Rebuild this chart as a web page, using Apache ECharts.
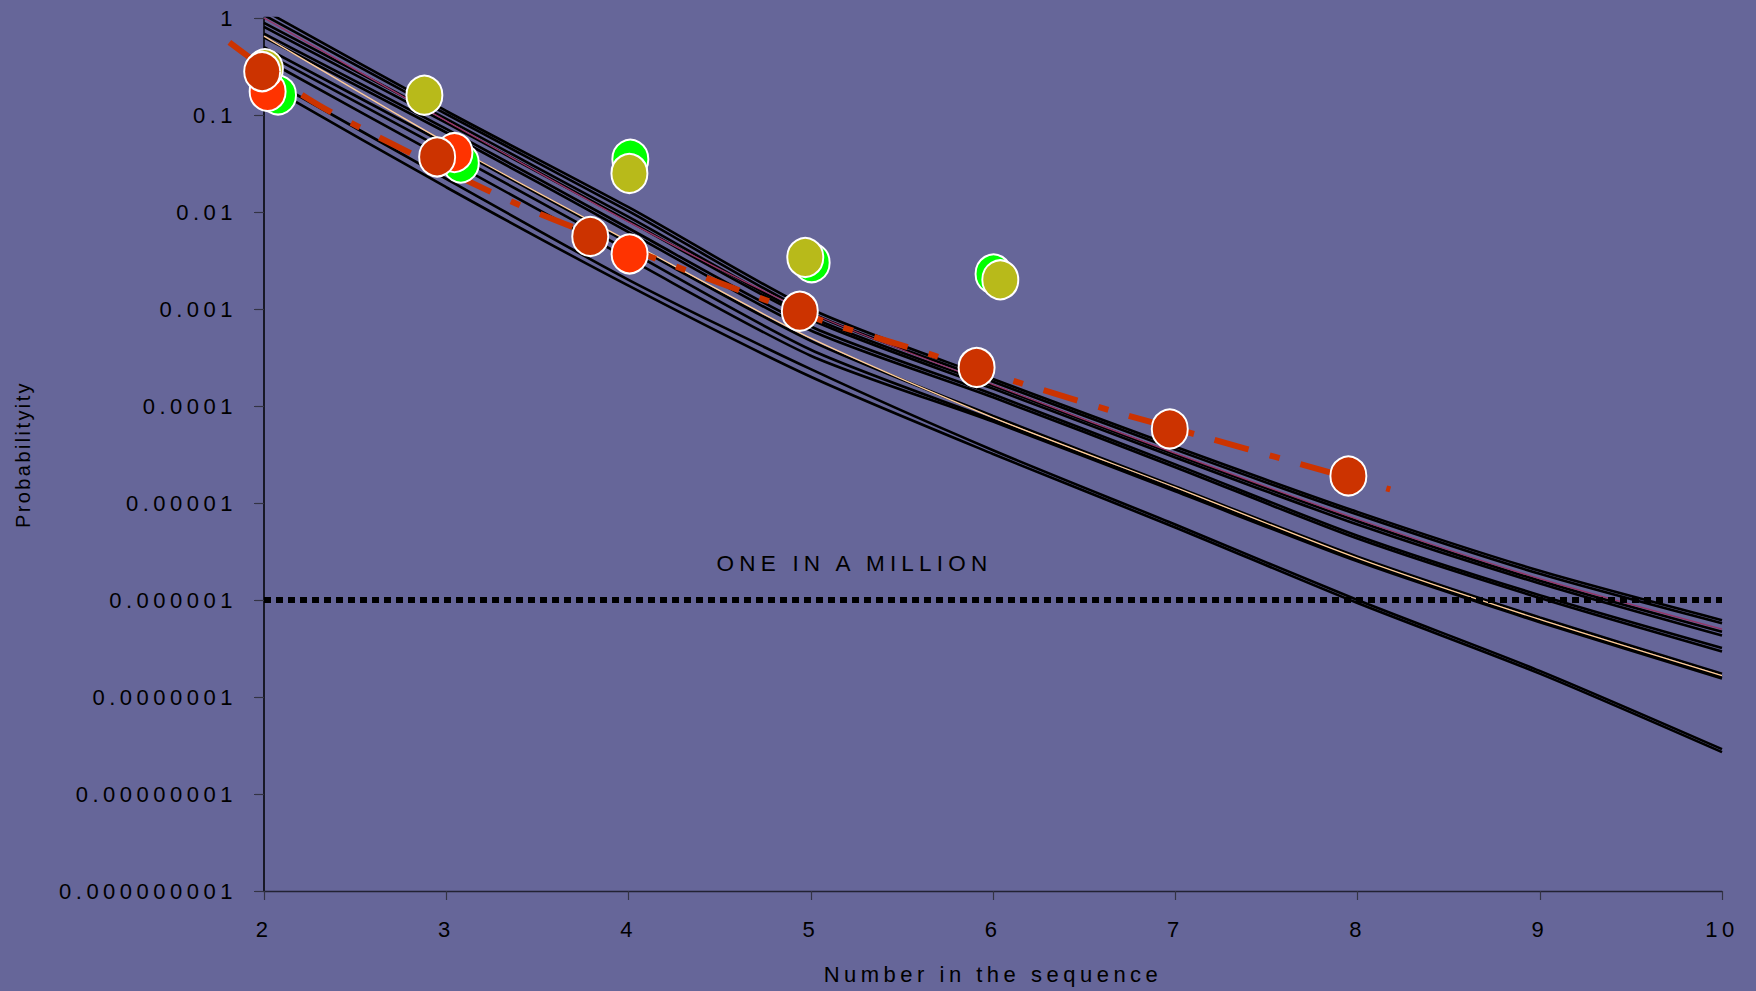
<!DOCTYPE html>
<html>
<head>
<meta charset="utf-8">
<script src="https://cdn.jsdelivr.net/npm/echarts@6.0.0/dist/echarts.min.js"></script>
<style>
html, body { margin: 0; padding: 0; background: #666699; }
#chart { width: 1756px; height: 991px; }
#chart text { letter-spacing: 4.5px; }
#chart text[style*="20px"] { letter-spacing: 2.4px; }
#chart text[style*="22.5px"] { letter-spacing: 5.2px; }
</style>
</head>
<body>
<div id="chart"></div>
<script>
// x positions of the model curves
const xValues = [2, 3, 4, 5, 6, 7, 8, 9, 10];

// model curves (probability at x = 2..10)
const curveA1 = [1.2, 0.11, 0.0112, 1.0e-3, 1.9e-4, 3.8e-5, 8.1e-6, 2.0e-6, 6.2e-7];
const curveA2 = [1.07, 0.102, 0.0102, 9.1e-4, 1.78e-4, 3.55e-5, 7.6e-6, 1.86e-6, 5.75e-7];
const curveB1 = [0.89, 0.091, 0.0089, 8.3e-4, 1.62e-4, 3.16e-5, 6.5e-6, 1.58e-6, 4.7e-7];
const curveB2 = [0.81, 0.083, 0.0081, 7.8e-4, 1.51e-4, 2.95e-5, 6.0e-6, 1.48e-6, 4.3e-7];
const curveC1 = [0.69, 0.072, 0.0068, 6.6e-4, 1.32e-4, 2.5e-5, 4.6e-6, 1.12e-6, 3.2e-7];
const curveC2 = [0.63, 0.066, 0.0062, 6.0e-4, 1.23e-4, 2.34e-5, 4.3e-6, 1.05e-6, 2.95e-7];
const curveD1 = [0.50, 0.050, 0.0048, 4.7e-4, 7.9e-5, 1.48e-5, 2.8e-6, 6.6e-7, 1.74e-7];
const curveD2 = [0.44, 0.043, 0.0040, 3.8e-4, 7.2e-5, 1.38e-5, 2.63e-6, 6.2e-7, 1.62e-7];
const curveD3 = [0.38, 0.035, 0.0033, 3.3e-4, 6.9e-5, 1.32e-5, 2.5e-6, 5.9e-7, 1.55e-7];
const curveE1 = [0.25, 0.022, 0.0020, 2.4e-4, 3.5e-5, 6.0e-6, 1.0e-6, 1.86e-7, 2.9e-8];
const curveE2 = [0.21, 0.018, 0.00174, 2.0e-4, 3.2e-5, 5.6e-6, 9.3e-7, 1.74e-7, 2.7e-8];
const curveMaroon = [1.0, 0.087, 0.0079, 9.1e-4, 1.66e-4, 3.24e-5, 6.8e-6, 1.66e-6, 5.0e-7];
const curveTan = [0.65, 0.052, 0.0050, 5.0e-4, 7.6e-5, 1.45e-5, 2.7e-6, 6.3e-7, 1.66e-7];

// trend line (dash-dot)
const trendX = [1.81, 2.24, 2.63, 3.13, 3.50, 4.175, 4.62, 5.08, 5.54, 6.23, 6.69, 7.16, 7.63, 8.18];
const trendY = [0.56, 0.148, 0.059, 0.0204, 0.0098, 0.00316, 0.00153, 0.00074, 0.0004, 0.000155, 0.000085, 0.000048, 0.000027, 0.0000138];

// observed points
const greenX = [2.077, 3.08, 4.01, 5.005, 6.003];
const greenY = [0.161, 0.032, 0.035, 0.003, 0.0023];
const orangeX = [2.02, 3.045, 4.006];
const orangeY = [0.175, 0.041, 0.0037];
const oliveX = [2.005, 2.88, 4.005, 4.97, 6.04];
const oliveY = [0.30, 0.16, 0.025, 0.0034, 0.002];
const darkRedX = [1.99, 2.95, 3.79, 4.94, 5.91, 6.97, 7.95];
const darkRedY = [0.28, 0.037, 0.0056, 0.00095, 0.00025, 5.8e-5, 1.9e-5];

// one-in-a-million reference
const millionX = [2, 10];
const millionY = [1e-6, 1e-6];
const millionLabel = 'ONE IN A MILLION';
const millionLabelAt = [5.24, 2.4e-6];

// axis texts
const yTickLabels = ['1', '0.1', '0.01', '0.001', '0.0001', '0.00001', '0.000001', '0.0000001', '0.00000001', '0.000000001'];
const xTickLabels = ['2', '3', '4', '5', '6', '7', '8', '9', '10'];
const xAxisName = 'Number in the sequence';
const yAxisName = 'Probabilityity';

const FONT = "'Liberation Sans', Arial, sans-serif";
const zip = (xs, ys) => xs.map((x, i) => [x, ys[i]]);

const blackCurves = [curveA1, curveA2, curveB1, curveB2, curveC1, curveC2, curveD1, curveD2, curveD3, curveE1, curveE2];

const series = [];
blackCurves.forEach(c => {
  series.push({
    type: 'line', data: zip(xValues, c), symbol: 'none', silent: true, smooth: 0.25,
    lineStyle: { color: '#000000', width: 2.6 }, z: 2
  });
});
series.push({
  type: 'line', data: zip(xValues, curveMaroon), symbol: 'none', silent: true, smooth: 0.25,
  lineStyle: { color: '#993366', width: 1.3 }, z: 3
});
series.push({
  type: 'line', data: zip(xValues, curveTan), symbol: 'none', silent: true, smooth: 0.25,
  lineStyle: { color: '#FFCC99', width: 1.3 }, z: 3
});
series.push({
  type: 'line', data: zip(millionX, millionY), symbol: 'none', silent: true,
  lineStyle: { color: '#000000', width: 6, type: [7, 5] }, z: 4,
  markPoint: {
    symbol: 'circle', symbolSize: 0, silent: true,
    label: { show: true, position: 'inside', color: '#000000', fontSize: 22.5, fontFamily: FONT, formatter: millionLabel },
    data: [{ coord: millionLabelAt }]
  }
});
// trend line lives on an overlay grid whose x range starts at 1.8 (same pixel scale)
series.push({
  type: 'line', xAxisIndex: 1, yAxisIndex: 1,
  data: zip(trendX, trendY), symbol: 'none', silent: true, smooth: 0.3,
  lineStyle: { color: '#CC3300', width: 6, type: [35, 22, 10, 22] }, z: 5
});
const pointSeries = [
  [greenX, greenY, '#00FF00'],
  [orangeX, orangeY, '#FF3300'],
  [oliveX, oliveY, '#B8BA1A'],
  [darkRedX, darkRedY, '#CC3300']
];
pointSeries.forEach(([xs, ys, col]) => {
  series.push({
    type: 'scatter', data: zip(xs, ys), symbol: 'circle', symbolSize: [36, 39], clip: false, silent: true,
    itemStyle: { color: col, borderColor: '#FFFFFF', borderWidth: 2, opacity: 1 }, z: 6
  });
});

const GRID_LEFT = 264, GRID_RIGHT = 34, GRID_TOP = 18, GRID_BOTTOM = 100;
const plotWidth = 1756 - GRID_LEFT - GRID_RIGHT;
const overlayMin = 1.8;
const overlayLeft = GRID_LEFT - (2 - overlayMin) * plotWidth / (10 - 2);

const chart = echarts.init(document.getElementById('chart'), null, { renderer: 'svg' });
chart.setOption({
  animation: false,
  backgroundColor: '#666699',
  textStyle: { fontFamily: FONT },
  grid: [
    { left: GRID_LEFT, right: GRID_RIGHT, top: GRID_TOP, bottom: GRID_BOTTOM, containLabel: false },
    { left: overlayLeft, right: GRID_RIGHT, top: GRID_TOP, bottom: GRID_BOTTOM, containLabel: false }
  ],
  xAxis: [{
    type: 'value', min: 2, max: 10, interval: 1,
    name: xAxisName, nameLocation: 'middle', nameGap: 72,
    nameTextStyle: { color: '#000000', fontSize: 22, fontFamily: FONT },
    axisLine: { show: true, lineStyle: { color: '#222233', width: 1.3 } },
    axisTick: { show: true, length: 9, lineStyle: { color: '#333344', width: 1.2 } },
    axisLabel: {
      color: '#000000', fontSize: 22, fontFamily: FONT, margin: 27,
      showMinLabel: true, showMaxLabel: true,
      formatter: v => xTickLabels[xValues.indexOf(Math.round(v))] ?? ''
    },
    splitLine: { show: false }
  }, {
    type: 'value', gridIndex: 1, min: overlayMin, max: 10, show: false, splitLine: { show: false }
  }],
  yAxis: [{
    type: 'log', logBase: 10, min: 1e-9, max: 1,
    name: yAxisName, nameLocation: 'middle', nameGap: 231,
    nameTextStyle: { color: '#000000', fontSize: 20, fontFamily: FONT },
    axisLine: { show: true, lineStyle: { color: '#000000', width: 1.5 } },
    axisTick: { show: true, length: 10, lineStyle: { color: '#333344', width: 1.2 } },
    axisLabel: {
      color: '#000000', fontSize: 22, fontFamily: FONT, margin: 27,
      showMinLabel: true, showMaxLabel: true,
      formatter: v => yTickLabels[Math.round(-Math.log10(v))] ?? ''
    },
    splitLine: { show: false }
  }, {
    type: 'log', logBase: 10, gridIndex: 1, min: 1e-9, max: 1, show: false, splitLine: { show: false }
  }],
  series: series
});
</script>
</body>
</html>
